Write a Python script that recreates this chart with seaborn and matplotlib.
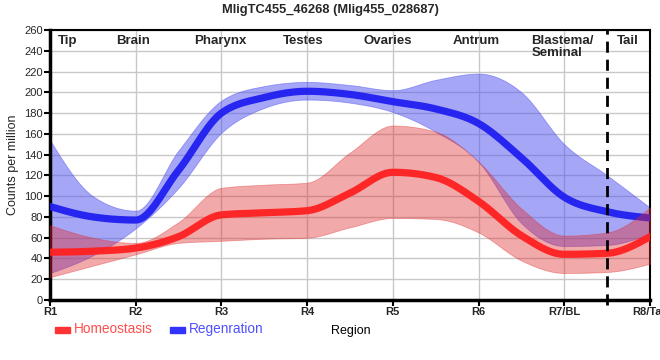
import numpy as np
import pandas as pd
import matplotlib
matplotlib.use("Agg")
import matplotlib.pyplot as plt
import seaborn as sns

# ---- data (at every half region) ----
regions = ["R1", "R2", "R3", "R4", "R5", "R6", "R7/BL", "R8/Tail"]
positions = [0, 0.5, 1, 1.5, 2, 2.5, 3, 3.5, 4, 4.5, 5, 5.5, 6, 6.5, 7]
section_labels = ["Tip", "Brain", "Pharynx", "Testes", "Ovaries", "Antrum", "Blastema/\nSeminal", "Tail"]
section_pos = [0.21, 0.97, 1.99, 2.95, 3.94, 4.97, 5.98, 6.74]

homeo_mean = [46, 47, 50, 61, 82, 84, 86, 103, 123, 118, 95, 62, 44, 45, 61]
homeo_upper = [72, 60, 55, 75, 108, 111, 113, 142, 168, 162, 133, 88, 62, 65, 89]
homeo_lower = [22, 33, 44, 55, 57, 59, 60, 70, 79, 78, 65, 38, 26, 27, 35]

regen_mean = [90, 80, 77, 125, 180, 195, 201, 198, 191, 184, 170, 137, 99, 85, 79]
regen_upper = [154, 100, 86, 144, 192, 206, 210, 207, 202, 212, 218, 200, 150, 120, 89]
regen_lower = [26, 43, 69, 108, 161, 185, 193, 190, 181, 162, 133, 74, 52, 53, 64]

yticks = list(range(0, 261, 20))
title = "MligTC455_46268 (Mlig455_028687)"


# ---- monotone-x smoothing (d3 curveMonotoneX style), rendering only ----
def monotone_curve(xs, ys, n=30):
    xs = np.asarray(xs, float)
    ys = np.asarray(ys, float)
    h = np.diff(xs)
    s = np.diff(ys) / h
    sg = lambda v: -1.0 if v < 0 else 1.0
    m = np.zeros(len(xs))
    for i in range(1, len(xs) - 1):
        p = (s[i - 1] * h[i] + s[i] * h[i - 1]) / (h[i - 1] + h[i])
        m[i] = (sg(s[i - 1]) + sg(s[i])) * min(abs(s[i - 1]), abs(s[i]), 0.5 * abs(p))
    m[0] = (3 * s[0] - m[1]) / 2
    m[-1] = (3 * s[-1] - m[-2]) / 2
    out_x, out_y = [], []
    for i in range(len(xs) - 1):
        t = np.linspace(0, 1, n, endpoint=(i == len(xs) - 2))
        h00 = 2 * t**3 - 3 * t**2 + 1
        h10 = t**3 - 2 * t**2 + t
        h01 = -2 * t**3 + 3 * t**2
        h11 = t**3 - t**2
        out_x.append(xs[i] + t * h[i])
        out_y.append(h00 * ys[i] + h10 * h[i] * m[i] + h01 * ys[i + 1] + h11 * h[i] * m[i + 1])
    return np.concatenate(out_x), np.concatenate(out_y)


sns.set_theme(style="white")
plt.rcParams["font.family"] = ["Liberation Sans", "DejaVu Sans"]

fig = plt.figure(figsize=(6.6, 3.6), dpi=100)
ax = fig.add_axes([50 / 660, 60 / 360, 600 / 660, 270 / 360])

red_line = "#ff2020"
blue_line = "#1f1ff0"
red_fill = (0.88, 0.16, 0.16)
blue_fill = (0.31, 0.31, 0.94)

series = [
    ("Regenration", regen_mean, regen_upper, regen_lower, blue_line, blue_fill, 0.5),
    ("Homeostasis", homeo_mean, homeo_upper, homeo_lower, red_line, red_fill, 0.4),
]
z = 2
for name, mean, up, lo, lc, fc, al in series:
    xu, yu = monotone_curve(positions, up)
    xl, yl = monotone_curve(positions, lo)
    ax.fill_between(xu, yl, yu, color=fc, alpha=al, linewidth=0.6, zorder=z)
    xm, ym = monotone_curve(positions, mean)
    df = pd.DataFrame({"x": xm, "y": ym})
    sns.lineplot(data=df, x="x", y="y", ax=ax, color=lc, linewidth=5.2,
                 sort=False, estimator=None, zorder=z + 1, alpha=0.95)
    z += 2

ax.axvline(6.5, color="black", linewidth=2, linestyle=(0, (4, 2.5)), zorder=10,
           ymin=-0.02, ymax=1, clip_on=False)

ax.set_xlim(0, 7)
ax.set_ylim(0, 260)
ax.set_xticks(range(len(regions)))
ax.set_xticklabels(regions, fontsize=8, fontweight="bold")
ax.set_yticks(yticks)
ax.set_yticklabels([str(v) for v in yticks], fontsize=8)
ax.grid(True, color="#c8c8c8", linewidth=1)
ax.set_axisbelow(True)
ax.tick_params(axis="both", which="major", length=4, width=1.5, color="black",
               pad=1, direction="out", bottom=True, left=True)
for side in ["left", "bottom"]:
    ax.spines[side].set_linewidth(2.5)
    ax.spines[side].set_color("black")
for side in ["top", "right"]:
    ax.spines[side].set_linewidth(1.5)
    ax.spines[side].set_color("black")
    ax.spines[side].set_visible(True)

ax.set_xlabel("")
ax.set_ylabel("Counts per million", fontsize=9, labelpad=4)

for lab, px in zip(section_labels, section_pos):
    ax.text(px, 255.5, lab, ha="center", va="top", fontsize=9.5, fontweight="bold",
            multialignment="left", linespacing=1.0, zorder=11)

fig.text(0.5, 1 - 10 / 360, title, ha="center", va="center", fontsize=9.3, fontweight="bold")

# legend (custom, below plot)
fig.patches.append(plt.Rectangle((55 / 660, 1 - 333 / 360), 15 / 660, 6 / 360,
                                 transform=fig.transFigure, color="#ff3333"))
fig.text(74 / 660, 1 - 329 / 360, "Homeostasis", color="#ff4d4d", fontsize=9.8,
         ha="left", va="center")
fig.patches.append(plt.Rectangle((170 / 660, 1 - 333 / 360), 15 / 660, 6 / 360,
                                 transform=fig.transFigure, color="#3333ff"))
fig.text(189 / 660, 1 - 329 / 360, "Regenration", color="#5050ff", fontsize=9.8,
         ha="left", va="center")
fig.text(351 / 660, 1 - 331 / 360, "Region", color="black", fontsize=9,
         ha="center", va="center")

fig.savefig("out.png", dpi=100)
